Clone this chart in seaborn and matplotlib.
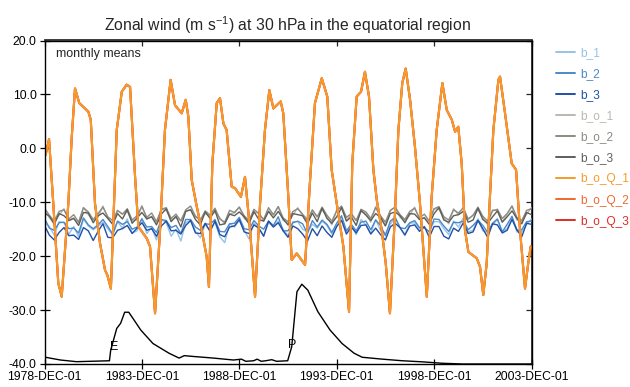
import numpy as np
import pandas as pd
import matplotlib
matplotlib.use("Agg")
import matplotlib.pyplot as plt
import seaborn as sns

# ---------------- data ----------------
tick_months = [0, 60, 120, 180, 240, 300]
tick_labels = ["1978-DEC-01", "1983-DEC-01", "1988-DEC-01",
               "1993-DEC-01", "1998-DEC-01", "2003-DEC-01"]
y_ticks = [-40, -30, -20, -10, 0, 10, 20]

series_names = ["b_1", "b_2", "b_3", "b_o_1", "b_o_2", "b_o_3",
                "b_o_Q_1", "b_o_Q_2", "b_o_Q_3"]
series_colors = ["#95c3e8", "#4a89c9", "#2150a6", "#b9b9b1", "#8b8b84",
                 "#5e5e5a", "#f69a2a", "#ef6832", "#df2b27"]

# quarterly samples (months since 1978-DEC-01)
band_months = list(range(0, 301, 3))

b_1 = [-13.8,-14.5,-16.1,-13.6,-13.8,-15.9,-14.5,-16.4,-13.1,-14.4,
       -15.1,-14.5,-13.7,-14.9,-16.1,-13.6,-14.8,-13.1,-15.7,-15.3,
       -13.0,-15.8,-14.7,-17.0,-13.2,-13.8,-16.3,-15.0,-17.2,-13.8,
       -13.3,-15.4,-16.6,-14.1,-15.3,-13.7,-16.4,-17.5,-14.0,-14.6,
       -13.4,-15.2,-16.8,-13.9,-14.8,-16.2,-13.8,-14.5,-13.5,-15.0,
       -16.2,-13.6,-13.6,-15.0,-15.5,-14.1,-14.8,-13.5,-14.3,-15.9,
       -14.4,-12.9,-15.5,-14.2,-16.0,-13.2,-14.2,-15.8,-13.2,-15.2,
       -15.8,-14.1,-12.8,-14.7,-16.0,-13.9,-13.8,-15.0,-14.8,-15.4,
       -13.6,-13.6,-14.9,-16.0,-13.5,-14.6,-12.9,-15.5,-15.2,-13.1,
       -15.3,-15.6,-14.2,-13.2,-15.4,-14.9,-12.9,-15.5,-15.5,-14.1,
       -13.1]
b_2 = [-13.0,-14.8,-15.2,-13.8,-13.7,-14.9,-14.8,-15.7,-12.9,-14.2,
       -14.9,-14.2,-13.2,-14.5,-15.9,-13.5,-14.1,-13.6,-15.0,-14.6,
       -13.1,-14.6,-14.5,-15.6,-13.2,-13.4,-14.7,-14.3,-15.8,-13.2,
       -13.2,-14.6,-15.2,-14.0,-14.1,-13.2,-15.4,-15.5,-14.0,-13.9,
       -12.8,-14.9,-15.1,-13.4,-14.4,-15.0,-13.5,-14.3,-12.7,-15.3,
       -15.3,-13.8,-13.5,-14.0,-15.8,-13.4,-14.6,-13.3,-14.1,-15.6,
       -13.9,-12.5,-15.3,-14.1,-15.3,-13.7,-13.5,-15.1,-13.3,-14.3,
       -16.2,-13.5,-12.8,-14.7,-14.9,-13.8,-13.4,-14.7,-14.7,-15.5,
       -13.1,-13.2,-14.4,-15.4,-13.7,-13.8,-13.5,-15.1,-14.3,-13.3,
       -14.3,-15.6,-13.9,-13.1,-15.5,-14.1,-12.6,-15.2,-15.1,-13.6,
       -13.5]
b_3 = [-14.3,-16.1,-17.0,-15.6,-14.7,-16.2,-16.1,-16.9,-14.7,-15.3,
       -17.1,-15.4,-14.0,-16.5,-16.6,-15.2,-14.9,-14.3,-15.8,-14.8,
       -13.8,-15.2,-14.9,-16.3,-14.4,-13.5,-15.3,-15.2,-15.9,-14.3,
       -13.4,-15.7,-15.8,-13.9,-15.4,-13.5,-16.0,-16.4,-14.6,-14.4,
       -13.2,-15.5,-15.8,-14.2,-14.8,-16.3,-13.5,-14.6,-13.8,-15.3,
       -16.5,-14.4,-14.9,-15.9,-17.2,-14.9,-16.2,-14.4,-15.6,-16.5,
       -14.5,-13.4,-15.9,-14.6,-15.7,-14.3,-14.2,-15.9,-14.8,-16.0,
       -17.0,-14.6,-13.9,-14.7,-16.1,-14.4,-14.2,-15.4,-14.5,-16.5,
       -14.5,-14.5,-16.3,-16.8,-14.8,-15.4,-13.8,-15.8,-15.5,-13.4,
       -14.9,-16.5,-14.0,-14.2,-15.7,-15.2,-13.2,-15.1,-16.4,-13.9,
       -14.1]
b_o_1 = [-11.1,-12.9,-13.7,-12.4,-11.2,-13.4,-12.9,-13.8,-11.0,-12.3,
         -13.4,-12.8,-10.7,-13.0,-14.0,-11.6,-12.2,-11.7,-13.5,-13.2,
         -10.6,-13.1,-12.6,-13.7,-11.3,-11.5,-13.2,-12.9,-13.3,-11.7,
         -11.3,-12.7,-13.3,-12.1,-12.6,-11.8,-12.9,-14.0,-12.1,-12.0,
         -10.9,-13.0,-13.6,-12.0,-11.9,-13.5,-11.6,-12.4,-10.8,-13.4,
         -13.8,-12.4,-11.0,-12.5,-13.9,-11.5,-12.7,-11.4,-12.6,-14.2,
         -11.4,-11.0,-13.4,-12.2,-13.4,-11.8,-12.0,-13.7,-10.8,-12.8,
         -14.3,-11.6,-10.9,-12.8,-13.4,-12.4,-10.9,-13.2,-12.8,-13.6,
         -11.2,-11.3,-12.9,-14.0,-11.2,-12.3,-11.6,-13.2,-12.4,-11.4,
         -12.8,-14.2,-11.4,-11.6,-13.6,-12.2,-10.7,-13.3,-13.6,-12.2,
         -11.0]
b_o_2 = [-11.1,-12.4,-13.5,-11.7,-11.4,-13.1,-12.3,-13.7,-11.0,-11.8,
         -13.2,-12.1,-10.9,-12.7,-13.4,-11.5,-12.2,-11.2,-13.3,-12.5,
         -10.8,-12.8,-12.0,-13.6,-11.3,-11.0,-13.0,-12.2,-13.5,-11.4,
         -10.7,-12.6,-13.3,-11.6,-12.4,-11.1,-13.1,-13.7,-11.5,-11.9,
         -10.9,-12.5,-13.4,-11.3,-12.1,-13.2,-11.0,-12.3,-10.8,-12.9,
         -13.6,-11.7,-11.2,-12.2,-13.3,-11.4,-12.7,-10.9,-12.4,-13.5,
         -11.6,-10.7,-12.8,-12.1,-13.4,-11.3,-11.8,-13.0,-11.0,-12.5,
         -13.7,-11.5,-10.9,-12.3,-13.2,-11.7,-11.1,-12.9,-12.2,-13.5,
         -11.2,-10.8,-12.7,-13.3,-11.4,-12.0,-11.0,-13.1,-12.4,-10.9,
         -12.6,-13.5,-11.6,-11.3,-13.0,-12.1,-10.7,-12.8,-13.4,-11.5,
         -11.2]
b_o_3 = [-12.0,-12.6,-14.1,-12.1,-12.5,-13.4,-13.0,-14.3,-11.9,-12.0,
         -13.8,-12.5,-12.0,-13.0,-14.1,-12.1,-13.1,-11.4,-13.9,-12.9,
         -11.9,-13.1,-12.7,-14.2,-12.2,-11.2,-13.6,-12.6,-14.6,-11.7,
         -11.4,-13.2,-14.2,-11.8,-13.0,-11.5,-14.2,-14.0,-12.2,-12.5,
         -11.8,-12.7,-14.0,-11.7,-13.2,-13.5,-11.7,-12.9,-11.7,-13.1,
         -14.2,-12.1,-12.3,-12.5,-14.0,-12.0,-13.6,-11.1,-13.0,-13.9,
         -12.7,-11.0,-13.5,-12.7,-14.3,-11.5,-12.4,-13.4,-12.1,-12.8,
         -14.4,-12.1,-11.8,-12.5,-13.8,-12.1,-12.2,-13.2,-12.9,-14.1,
         -12.1,-11.0,-13.3,-13.7,-12.5,-12.3,-11.7,-13.7,-13.3,-11.1,
         -13.2,-13.9,-12.7,-11.6,-13.7,-12.7,-11.6,-13.0,-14.0,-11.9,
         -12.3]

# QBO-driven runs (the three Q runs coincide almost exactly)
q_months = [0.7, 2.8, 5.4, 8.5, 10.6, 14.7, 16.8, 18.8, 21.4, 27.0, 28.5, 31.1, 34.2, 37.3, 38.7, 40.9,
            44.5, 47.6, 50.6, 52.7, 55.8, 57.8, 63.0, 65.0, 68.1, 71.2, 74.2, 77.7, 80.4, 84.5, 87.0,
            88.6, 90.7, 93.8, 96.8, 99.9, 101.3, 103.4, 106.1, 108.1, 110.2, 112.2, 115.3, 117.4, 121.0,
            123.5, 126.6, 129.7, 132.8, 135.8, 138.5, 141.0, 145.5, 147.1, 150.2, 152.3, 155.4, 160.5,
            163.6, 166.6, 170.8, 174.2, 176.9, 180.0, 184.1, 187.6, 189.6, 192.3, 195.0, 197.4, 199.9,
            202.6, 204.7, 207.7, 210.2, 212.8, 215.9, 218.0, 220.4, 222.5, 225.2, 228.2, 231.3, 234.0,
            235.5, 238.5, 241.6, 245.1, 247.8, 250.9, 252.9, 254.9, 257.0, 259.0, 261.1, 266.3, 268.3,
            270.3, 272.4, 274.4, 276.5, 279.6, 280.6, 283.7, 287.8, 290.5, 292.9, 296.0, 298.0, 299.5]
q_1 = [-1.2, 1.7, -10.2, -25.0, -27.5, -10.1, 2.2, 11.1, 8.4, 6.8, 5.3, -10.2, -17.6, -22.6, -23.5, -26.0,
       3.4, 10.5, 11.8, 11.4, -5.3, -14.5, -16.7, -18.2, -30.6, -15.1, 3.4, 12.7, 8.0, 6.5, 9.0,
       5.9, -5.9, -10.8, -15.1, -20.1, -25.7, -2.8, 8.4, 9.3, 4.6, 3.4, -7.1, -7.4, -9.0,
       -5.3, -15.1, -27.5, -10.2, 3.4, 10.8, 7.4, 8.7, 6.5, -9.0, -20.7, -19.5, -21.6,
       -5.9, 8.4, 13.0, 9.6, -4.0, -10.2, -18.2, -30.3, -2.8, 9.6, 10.5, 14.2, 9.6,
       -4.0, -9.6, -15.1, -21.3, -30.6, -12.1, 3.4, 12.1, 14.8, 9.0, 0.3, -10.2, -21.3,
       -27.5, -9.0, 3.4, 12.1, 7.1, 5.3, 3.1, 4.0, -2.8, -15.1, -19.2, -20.4, -22.0,
       -27.2, -21.3, -9.0, 3.4, 12.7, 13.3, 6.5, -2.8, -4.0, -15.1, -26.0, -21.3, -18.2]
q_2 = list(q_1)
q_3 = list(q_1)

# black curve (volcanic aerosol indicator, drawn in the lower part)
k_months = [0.6, 9.8, 19.7, 40.0, 40.8, 44.5, 46.9, 49.4, 51.9, 54.4, 59.3, 66.8, 76.7, 82.9, 86.1,
            91.6, 104.0, 116.4, 121.3, 124.0, 128.8, 131.0, 133.5, 136.2, 140.0, 143.0, 149.8, 152.3,
            155.5, 158.5, 162.2, 168.4, 175.9, 183.3, 190.7, 195.7, 208.1, 220.5, 232.9, 245.3, 257.7, 300.0]
k_vals = [-38.75, -39.26, -39.57, -39.4, -37.4, -33.4, -32.45, -30.4, -30.4, -31.5, -33.7, -36.2, -38.0,
          -38.9, -38.45, -38.6, -38.9, -39.26, -39.1, -39.5, -39.4, -39.1, -39.5, -39.4, -39.2, -39.5,
          -39.4, -36.8, -26.6, -25.2, -26.3, -30.3, -33.7, -36.2, -38.0, -38.75, -39.1, -39.4, -39.6,
          -39.87, -40.0, -40.0]

events = ["E", "P"]
event_months = [42.8, 152.8]
event_vals = [-36.9, -36.5]

# ---------------- style ----------------
sns.set_theme(style="ticks")
plt.rcParams["font.family"] = ["Liberation Sans", "DejaVu Sans"]
plt.rcParams["axes.unicode_minus"] = False
plt.rcParams["mathtext.fontset"] = "custom"
plt.rcParams["mathtext.rm"] = "Liberation Sans"
plt.rcParams["mathtext.it"] = "Liberation Sans"

fig = plt.figure(figsize=(6.3, 3.87), dpi=100)
fig.patch.set_facecolor("white")
ax = fig.add_axes([44.5 / 630, 1 - 364 / 387, 487 / 630, 323.5 / 387])
ax.set_facecolor("white")

band = {"b_1": b_1, "b_2": b_2, "b_3": b_3, "b_o_1": b_o_1, "b_o_2": b_o_2, "b_o_3": b_o_3}
cmap = dict(zip(series_names, series_colors))

draw_order = ["b_o_1", "b_o_2", "b_o_3", "b_1", "b_2", "b_3"]
for name in draw_order:
    df = pd.DataFrame({"month": band_months, "value": band[name]})
    sns.lineplot(data=df, x="month", y="value", color=cmap[name], lw=1.0,
                 ax=ax, estimator=None, sort=False)

qdata = {"b_o_Q_3": q_3, "b_o_Q_2": q_2, "b_o_Q_1": q_1}
for name, vals in qdata.items():
    df = pd.DataFrame({"month": q_months, "value": vals})
    sns.lineplot(data=df, x="month", y="value", color=cmap[name], lw=1.5,
                 ax=ax, estimator=None, sort=False)

kdf = pd.DataFrame({"month": k_months, "value": k_vals})
sns.lineplot(data=kdf, x="month", y="value", color="black", lw=1.0, ax=ax,
             estimator=None, sort=False)

for lab, m, v in zip(events, event_months, event_vals):
    ax.text(m, v, lab, ha="center", va="center", fontsize=9, color="black")

ax.set_xlim(0, 300)
ax.set_ylim(-40, 20)
ax.set_xlabel("")
ax.set_ylabel("")
ax.set_xticks(tick_months)
ax.set_xticklabels(tick_labels)
ax.set_yticks(y_ticks)
ax.set_yticklabels([f"{t:.1f}" for t in y_ticks])
for s in ax.spines.values():
    s.set_visible(True)
    s.set_color("black")
    s.set_linewidth(1.0)
ax.tick_params(axis="both", direction="inout", length=6.5, width=0.9,
               labelsize=8.7, colors="black", pad=1.5)
ax.tick_params(axis="y", pad=2.5)

top = ax.secondary_xaxis("top")
top.set_xticks(tick_months)
top.tick_params(direction="in", length=4, width=0.9, labeltop=False)
right = ax.secondary_yaxis("right")
right.set_yticks(y_ticks)
right.tick_params(direction="in", length=4, width=0.9, labelright=False)

ax.text(0.024, 0.958, "monthly means", transform=ax.transAxes, fontsize=9,
        ha="left", va="center")

ax.set_title(r"Zonal wind (m s$^{\mathregular{-1}}$) at 30 hPa in the equatorial region",
             fontsize=11.3, pad=7)

handles = [plt.Line2D([], [], color=c, lw=1.4) for c in series_colors]
leg = ax.legend(handles, series_names, loc="upper left",
                bbox_to_anchor=(556 / 630, 1 - 47 / 387),
                bbox_transform=fig.transFigure, frameon=False, fontsize=8.6,
                handlelength=1.6, handletextpad=0.45, labelspacing=0.76,
                borderpad=0, borderaxespad=0, labelcolor="linecolor")

fig.savefig("out.png", dpi=100, facecolor="white")
